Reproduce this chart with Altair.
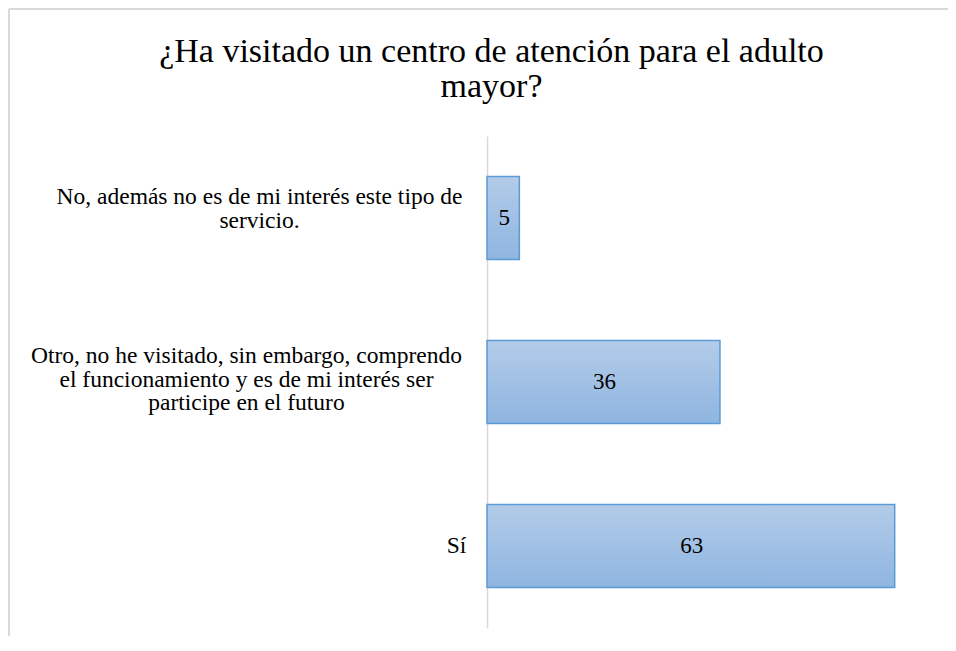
import altair as alt
import pandas as pd

categories = [
    "No, además no es de mi interés este tipo de|servicio.",
    "Otro, no he visitado, sin embargo, comprendo|el funcionamiento y es de mi interés ser|participe en el futuro",
    "Sí",
]
values = [5, 36, 63]
title_lines = ["¿Ha visitado un centro de atención para el adulto", "mayor?"]

df = pd.DataFrame({"cat": categories, "val": values})

SERIF = "Liberation Serif, DejaVu Serif"
GRID = "#d9d9d9"

gradient = alt.Gradient(
    gradient="linear",
    x1=0, y1=0, x2=0, y2=1,
    stops=[alt.GradientStop(color="#b3cce9", offset=0),
           alt.GradientStop(color="#8fb5e0", offset=1)],
)

y_enc = alt.Y(
    "cat:N",
    sort=None,
    scale=alt.Scale(paddingInner=0.494, paddingOuter=0.247),
    axis=alt.Axis(
        title=None,
        ticks=False,
        tickSize=0,
        grid=False,
        domainColor=GRID,
        domainWidth=1.5,
        labelFont=SERIF,
        labelFontSize=23.5,
        labelColor="#000000",
        labelAlign="center",
        labelBaseline="middle",
        labelLineHeight=23.5,
        labelLimit=0,
        labelExpr="split(datum.label, '|')",
        labelPadding={
            "condition": [
                {"test": "datum.value == 'Sí'", "value": 31},
                {"test": "indexof(datum.value, 'Otro') == 0", "value": 241},
            ],
            "value": 228,
        },
        labelOffset={
            "condition": [
                {"test": "datum.value == 'Sí'", "value": 0},
                {"test": "indexof(datum.value, 'Otro') == 0", "value": -26},
            ],
            "value": -21,
        },
    ),
)

x_enc = alt.X("val:Q", scale=alt.Scale(domain=[0, 70]), axis=None)

base = alt.Chart(df)

bars = base.mark_bar(fill=gradient, stroke="#5b9bd5", strokeWidth=1.5).encode(
    x=x_enc, y=y_enc
)

texts = base.transform_calculate(mid="datum.val / 2").mark_text(
    font=SERIF, fontSize=23, color="#000000", align="center", baseline="middle", dx=1
).encode(
    x=alt.X("mid:Q", scale=alt.Scale(domain=[0, 70]), axis=None),
    y=alt.Y("cat:N", sort=None),
    text="val:Q",
)

frame_src = alt.Chart(alt.Data(values=[{"k": 1}]))
frame_left = frame_src.mark_rule(color=GRID, strokeWidth=2).encode(
    x=alt.value(-478), y=alt.value(-127), y2=alt.value(600)
)
frame_top = frame_src.mark_rule(color=GRID, strokeWidth=2).encode(
    x=alt.value(-478), x2=alt.value(600), y=alt.value(-127)
)

chart = alt.layer(frame_left, frame_top, bars, texts).properties(
    width=453,
    height=492,
    autosize=alt.AutoSizeParams(type="none"),
    padding={"left": 479, "top": 128, "right": 8, "bottom": 8},
    title=alt.Title(
        text=title_lines,
        font=SERIF,
        fontSize=34,
        fontWeight="normal",
        color="#000000",
        anchor="middle",
        lineHeight=35,
        dx=-222,
        dy=96,
        offset=0,
    ),
).configure_view(stroke=None)

chart.save("out.html", embed_options={"renderer": "svg", "actions": False})
